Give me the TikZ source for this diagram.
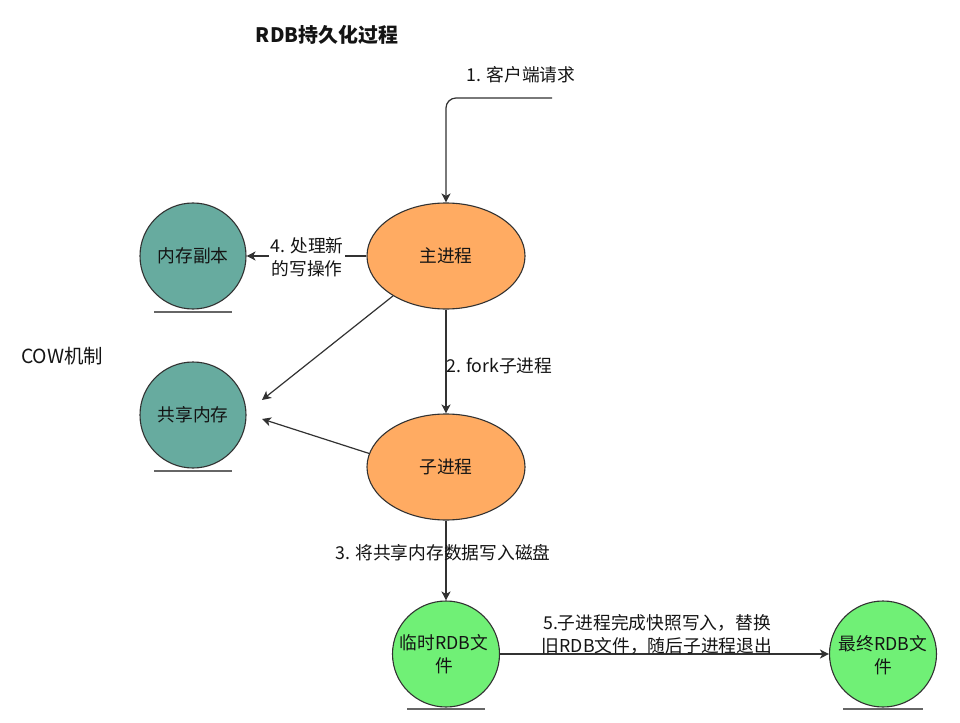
\documentclass[tikz,border=0pt]{standalone}
\usepackage{fontspec}
\setmainfont{Noto Sans CJK SC}
\usetikzlibrary{arrows.meta,shapes.geometric}
\definecolor{orangefill}{RGB}{255,171,98}
\definecolor{tealfill}{RGB}{103,171,159}
\definecolor{greenfill}{RGB}{112,240,118}
\definecolor{edgecol}{RGB}{50,50,50}
\definecolor{txt}{RGB}{20,20,20}
\tikzset{
  proc/.style={ellipse, draw=edgecol, line width=1.1bp, fill=orangefill, minimum width=158bp, minimum height=106bp, inner sep=0pt, text=txt},
  store/.style={ellipse, draw=edgecol, line width=1.1bp, fill=tealfill, minimum width=106bp, minimum height=106bp, inner sep=0pt, text=txt},
  filebox/.style={ellipse, draw=edgecol, line width=1.1bp, fill=greenfill, minimum width=107bp, minimum height=106bp, inner sep=0pt},
  uline/.style={draw=gray!80!black, line width=2bp},
  conn/.style={draw=edgecol, line width=1.2bp, -{Stealth[length=9bp,width=9bp,inset=2.5bp]}},
  lbl/.style={text=txt, inner sep=1bp, align=center}
}
\begin{document}
\begin{tikzpicture}[x=1bp,y=-1bp, font=\fontsize{17.8}{23}\selectfont]
\useasboundingbox[fill=white] (0,0) rectangle (960,723);

% nodes
\node[proc] (main) at (446,256) {主进程};
\node[proc] (child) at (446,467) {子进程};
\node[store] (copy) at (193,256) {内存副本};
\node[store] (shared) at (193,415) {共享内存};
\node[filebox] (temp) at (446,654) {};
\node[filebox] (final) at (883,654) {};
\node[lbl] (tempt) at (444,654) {临时RDB文\\件};
\node[lbl] (finalt) at (883,655) {最终RDB文\\件};

% underlines
\draw[uline] ([xshift=-39bp,yshift=-2bp]copy.south) -- ([xshift=39bp,yshift=-2bp]copy.south);
\draw[uline] ([xshift=-39bp,yshift=-2bp]shared.south) -- ([xshift=39bp,yshift=-2bp]shared.south);
\draw[uline] ([xshift=-39bp,yshift=-1bp]temp.south) -- ([xshift=39bp,yshift=-1bp]temp.south);
\draw[uline] ([xshift=-40bp,yshift=-1bp]final.south) -- ([xshift=40bp,yshift=-1bp]final.south);

% texts
\node[lbl, font=\bfseries\fontsize{20}{24}\selectfont] (title) at (327,35) {RDB持久化过程};
\node[lbl, font=\fontsize{19.5}{24}\selectfont] (cow) at (62,356) {COW机制};
\node[lbl] (l1) at (521,75) {1. 客户端请求};

% connectors
\coordinate (req) at (552,98);
\coordinate (sharedA) at (262,400);
\coordinate (sharedB) at (262,419);
\draw[conn, rounded corners=10bp] (req) -| (main.north);
\draw[conn] (main.west) -- (copy.east);
\draw[conn] (main.south) -- (child.north);
\draw[conn] (main.217) -- (sharedA);
\draw[conn] (child.170) -- (sharedB);
\draw[conn] (child.south) -- (temp.north);
\draw[conn] (temp.east) -- (final.west);

% edge labels
\node[lbl, fill=white] (l4) at (307,257) {4. 处理新\\的写操作};
\node[lbl, anchor=west] (l2) at (445,366) {2. fork子进程};
\node[lbl] (l3) at (443,553) {3. 将共享内存数据写入磁盘};
\node[lbl] (l5) at (657,634) {5.子进程完成快照写入，替换\\旧RDB文件，随后子进程退出};
\end{tikzpicture}
\end{document}
